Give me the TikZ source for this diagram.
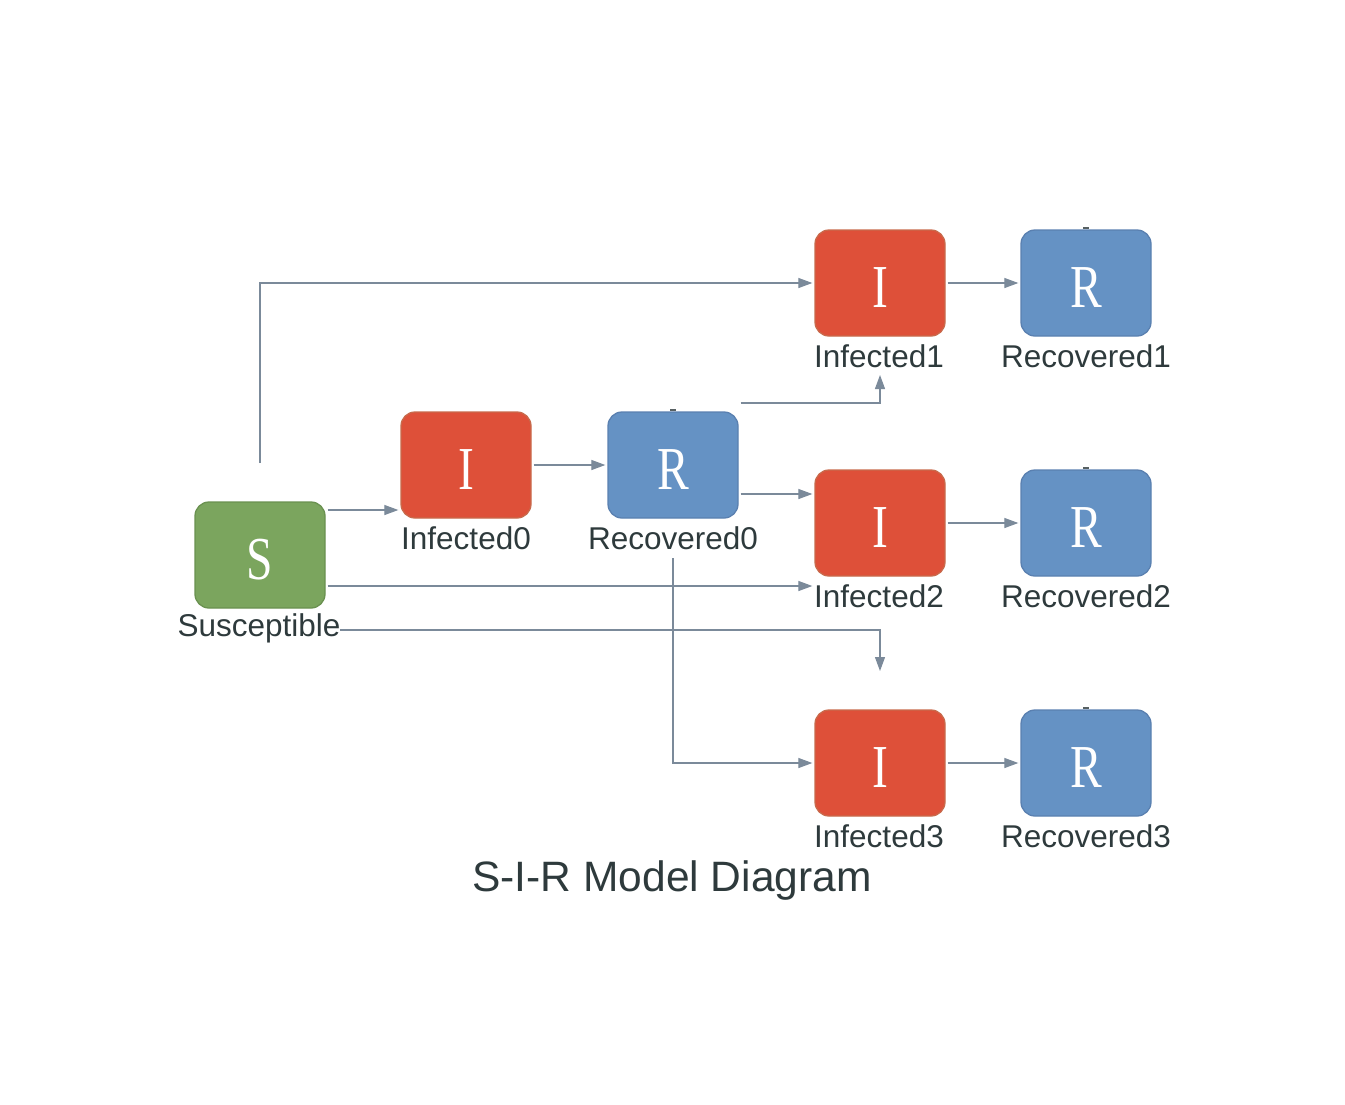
\documentclass[tikz,border=0pt]{standalone}
\usepackage{fontspec}
\setmainfont{Liberation Sans}
\newfontfamily\boxfont[FakeStretch=0.78]{Liberation Serif}
\usetikzlibrary{arrows.meta}
\definecolor{sgreen}{HTML}{7BA55E}
\definecolor{sgreenb}{HTML}{6A9150}
\definecolor{ired}{HTML}{DE5039}
\definecolor{iredb}{HTML}{C86A4C}
\definecolor{rblue}{HTML}{6592C4}
\definecolor{rblueb}{HTML}{5A80B0}
\definecolor{linec}{HTML}{7B8A9A}
\definecolor{txtc}{HTML}{2E3A3C}
\tikzset{
  statebox/.style={minimum width=130pt, minimum height=106pt, rounded corners=14pt,
    inner sep=0pt, line width=1.3pt, text=white, text height=49pt, text depth=0pt,
    font=\boxfont\fontsize{61}{61}\selectfont},
  sbox/.style={statebox, fill=sgreen, draw=sgreenb},
  ibox/.style={statebox, fill=ired, draw=iredb},
  rbox/.style={statebox, fill=rblue, draw=rblueb},
  lbl/.style={inner sep=0pt, text=txtc, font=\fontsize{31.5}{32}\selectfont},
  arr/.style={draw=linec, line width=1.2pt, -{Triangle[length=14pt,width=10pt]}, shorten >=2pt},
  stub/.style={draw=txtc!80, line width=2pt}
}
\begin{document}
\begin{tikzpicture}[x=1pt,y=-1pt]
\useasboundingbox (0,0) rectangle (1345,1104);
% boxes
\node[sbox] (S) at (260,555) {S};
\node[ibox] (I0) at (466,465) {I};
\node[rbox] (R0) at (673,465) {R};
\node[ibox] (I1) at (880,283) {I};
\node[rbox] (R1) at (1086,283) {R};
\node[ibox] (I2) at (880,523) {I};
\node[rbox] (R2) at (1086,523) {R};
\node[ibox] (I3) at (880,763) {I};
\node[rbox] (R3) at (1086,763) {R};
% labels
\node[lbl] (lS) at (259,628) {Susceptible};
\node[lbl] (lI0) at (466,538) {Infected0};
\node[lbl] (lR0) at (673,538) {Recovered0};
\node[lbl] (lI1) at (879,356) {Infected1};
\node[lbl] (lR1) at (1086,356) {Recovered1};
\node[lbl] (lI2) at (879,596) {Infected2};
\node[lbl] (lR2) at (1086,596) {Recovered2};
\node[lbl] (lI3) at (879,836) {Infected3};
\node[lbl] (lR3) at (1086,836) {Recovered3};
\node[inner sep=0pt, text=txtc, font=\fontsize{42.5}{43}\selectfont] (title) at (672,880) {S-I-R Model Diagram};
% stubs on top of R boxes
\draw[stub] ([xshift=-3pt,yshift=1pt]R0.north) -- ([xshift=3pt,yshift=1pt]R0.north);
\draw[stub] ([xshift=-3pt,yshift=1pt]R1.north) -- ([xshift=3pt,yshift=1pt]R1.north);
\draw[stub] ([xshift=-3pt,yshift=1pt]R2.north) -- ([xshift=3pt,yshift=1pt]R2.north);
\draw[stub] ([xshift=-3pt,yshift=1pt]R3.north) -- ([xshift=3pt,yshift=1pt]R3.north);
% free-end coordinates
\coordinate (c1) at (260,463);
\coordinate (t1) at (880,373);
\coordinate (s3) at (340,630);
\coordinate (t3) at (880,673);
\coordinate (r3) at (673,558);
% connectors
\draw[arr] (c1) |- (I1.west);
\draw[arr] ([xshift=2pt,yshift=45pt]S.east) -- ([yshift=-45pt]I0.west);
\draw[arr] ([xshift=2pt]I0.east) -- (R0.west);
\draw[arr] ([xshift=2pt,yshift=62pt]R0.east) -| (t1);
\draw[arr] ([xshift=2pt,yshift=-29pt]R0.east) -- ([yshift=29pt]I2.west);
\draw[arr] ([xshift=2pt,yshift=-31pt]S.east) -- ([yshift=-63pt]I2.west);
\draw[arr] (s3) -| (t3);
\draw[arr] (r3) |- (I3.west);
\draw[arr] ([xshift=2pt]I1.east) -- (R1.west);
\draw[arr] ([xshift=2pt]I2.east) -- (R2.west);
\draw[arr] ([xshift=2pt]I3.east) -- (R3.west);
\end{tikzpicture}
\end{document}
